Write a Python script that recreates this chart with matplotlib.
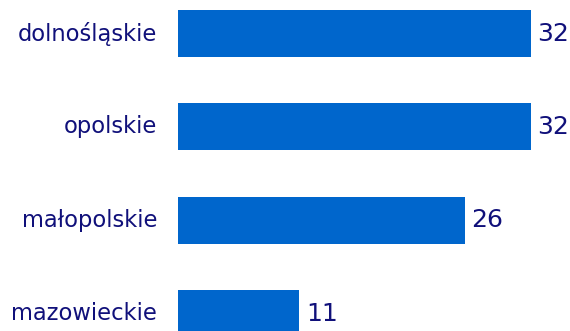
import matplotlib
matplotlib.use("Agg")
import matplotlib.pyplot as plt

regions = ["dolnośląskie", "opolskie", "małopolskie", "mazowieckie"]
values = [32, 32, 26, 11]

bar_color = "#0066CC"
text_color = "#10107A"

fig = plt.figure(figsize=(5.70, 3.31), dpi=100)
ax = fig.add_axes([0, 0, 1, 1])

pos = range(len(regions))
ax.barh(pos, values, height=0.504, color=bar_color)

for i, (name, v) in enumerate(zip(regions, values)):
    ax.text(-1.9, i, name, ha="right", va="center", fontsize=16.3, color=text_color)
    ax.text(v + 0.6, i, str(v), ha="left", va="center", fontsize=18, color=text_color)

ax.set_xlim(-16.14, 35.54)
ax.set_ylim(3.1875, -0.359)
ax.axis("off")

fig.savefig("out.png", dpi=100)
